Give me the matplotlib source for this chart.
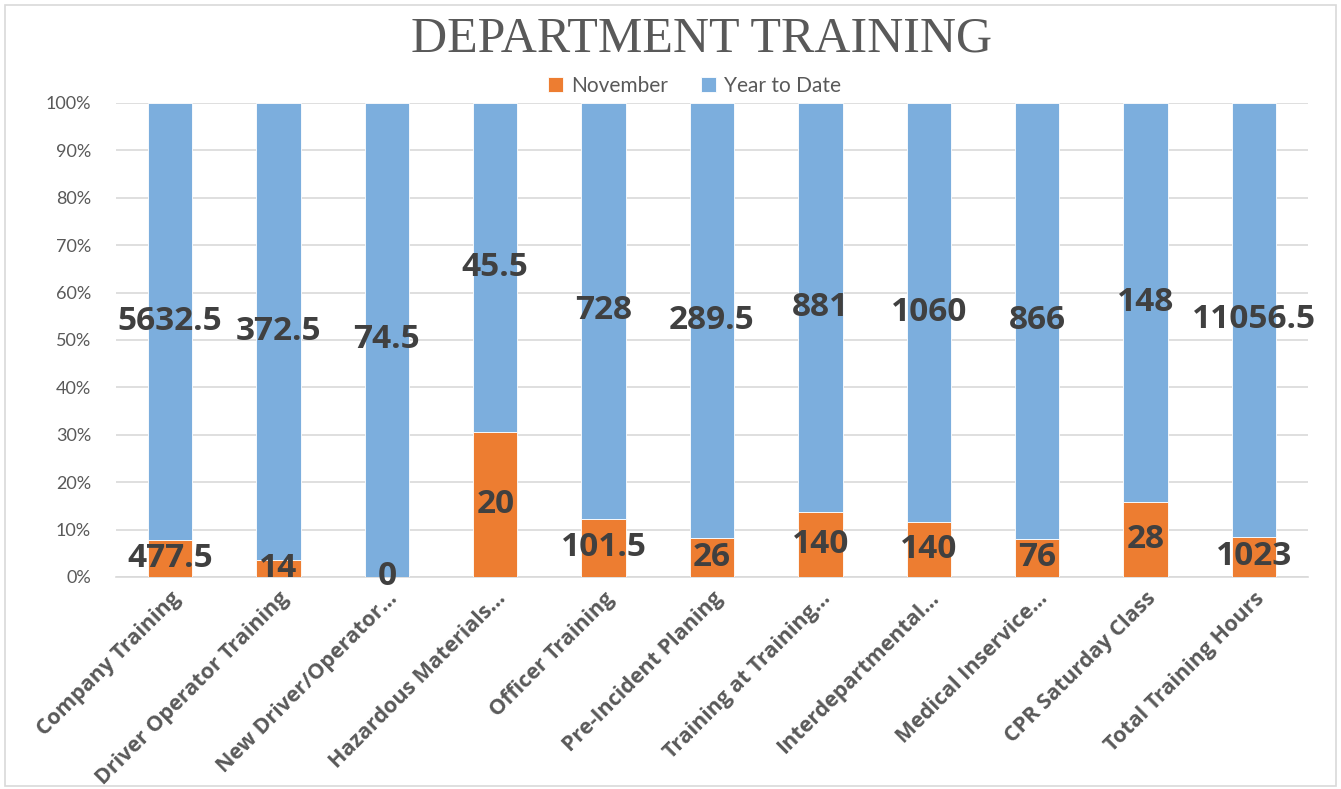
import matplotlib
matplotlib.use("Agg")
import matplotlib.pyplot as plt
import numpy as np
from matplotlib.patches import Rectangle

categories = ["Company Training", "Driver Operator Training", "New Driver/Operator…",
              "Hazardous Materials…", "Officer Training", "Pre-Incident Planing",
              "Training at Training…", "Interdepartmental…", "Medical Inservice…",
              "CPR Saturday Class", "Total Training Hours"]
november = [477.5, 14, 0, 20, 101.5, 26, 140, 140, 76, 28, 1023]
year_to_date = [5632.5, 372.5, 74.5, 45.5, 728, 289.5, 881, 1060, 866, 148, 11056.5]
y_ticks = [0, 10, 20, 30, 40, 50, 60, 70, 80, 90, 100]

ORANGE = "#ED7D31"
BLUE = "#7CAEDD"
GRAY = "#595959"
LABEL = "#404040"

fig = plt.figure(figsize=(13.41, 7.89), dpi=100)
ax = fig.add_axes([0.0865, 0.2687, 0.8889, 0.6008])

nov = np.array(november, dtype=float)
ytd = np.array(year_to_date, dtype=float)
tot = nov + ytd
nov_p = nov / tot * 100
ytd_p = ytd / tot * 100
x = np.arange(len(categories))
w = 0.41

ax.bar(x, nov_p, w, color=ORANGE, edgecolor="white", linewidth=0.6, label="November", zorder=3)
ax.bar(x, ytd_p, w, bottom=nov_p, color=BLUE, edgecolor="white", linewidth=0.6, label="Year to Date", zorder=3)

for i in range(len(x)):
    ax.text(x[i], nov_p[i] / 2, f"{november[i]:g}", ha="center", va="center",
            fontsize=24, fontweight="bold", color=LABEL, family="Open Sans", zorder=5)
    ax.text(x[i], nov_p[i] + ytd_p[i] / 2, f"{year_to_date[i]:g}", ha="center", va="center",
            fontsize=24, fontweight="bold", color=LABEL, family="Open Sans", zorder=5)

ax.set_xlim(-0.5, len(x) - 0.5)
ax.set_ylim(0, 100)
ax.set_yticks(y_ticks)
ax.set_yticklabels([f"{v}%" for v in y_ticks], fontsize=13, color=GRAY, family="Lato")
ax.yaxis.grid(True, color="#D9D9D9", linewidth=1.2, zorder=0)
ax.set_axisbelow(True)
ax.tick_params(axis="y", length=0, pad=18)
ax.tick_params(axis="x", length=0, pad=8)
ax.set_xticks(x)
ax.set_xticklabels(categories, rotation=45, ha="right", rotation_mode="anchor",
                   fontsize=15.5, fontweight="bold", color=GRAY, family="Open Sans")
for s in ["left", "right", "top"]:
    ax.spines[s].set_visible(False)
ax.spines["bottom"].set_color("#D9D9D9")
ax.spines["bottom"].set_linewidth(1.2)

leg = fig.legend(loc="center", bbox_to_anchor=(0.518, 0.891), ncol=2, frameon=False,
                 handlelength=0.7, handleheight=0.7, handletextpad=0.4, columnspacing=1.6,
                 prop={"family": "Lato", "size": 15})
for t in leg.get_texts():
    t.set_color(GRAY)

fig.text(0.523, 0.95, "DEPARTMENT TRAINING", ha="center", va="center",
         fontsize=36, color=GRAY, family="Liberation Serif")

fig.patches.append(Rectangle((0.004, 0.004), 0.992, 0.99, transform=fig.transFigure,
                             fill=False, edgecolor="#D9D9D9", linewidth=1.2))

fig.savefig("out.png", dpi=100)
